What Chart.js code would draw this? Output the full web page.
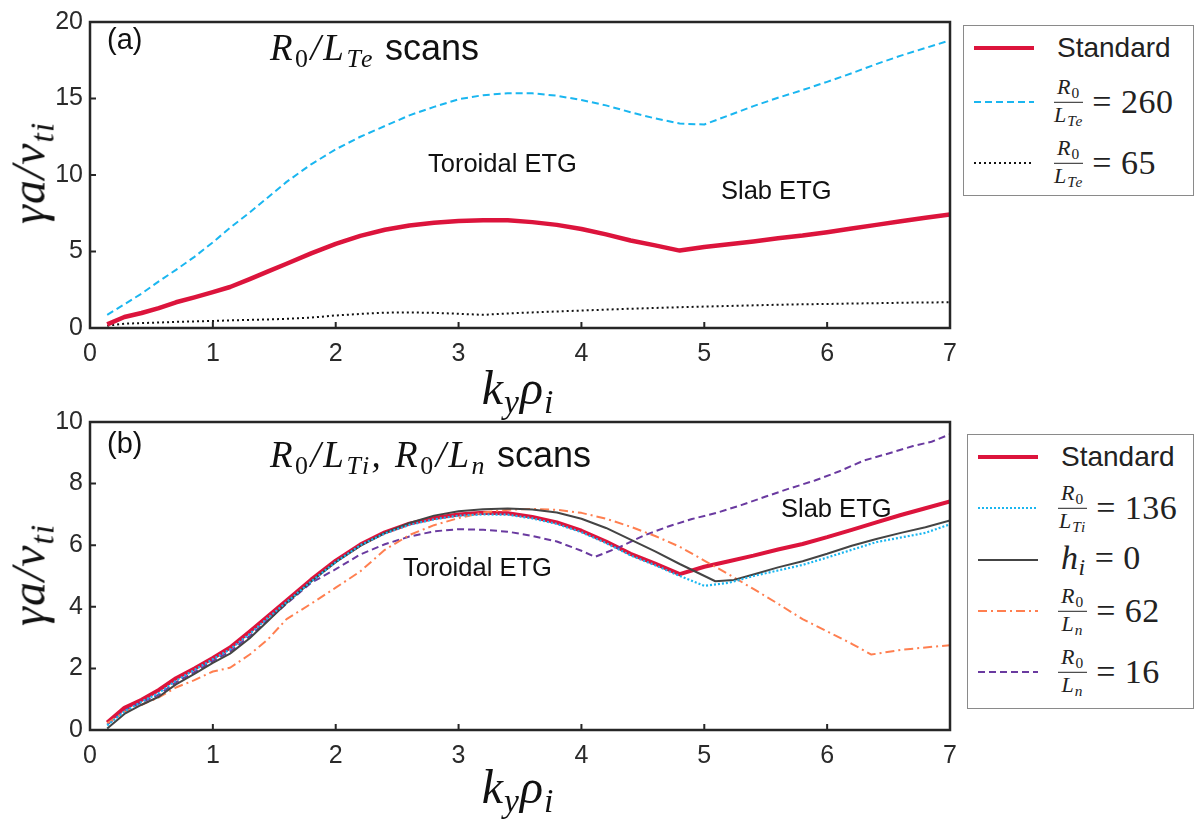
<!DOCTYPE html>
<html>
<head>
<meta charset="utf-8">
<script src="https://cdn.jsdelivr.net/npm/chart.js@4.4.1/dist/chart.umd.min.js"></script>
<style>
  html,body{margin:0;padding:0;background:#fff;}
  #wrap{position:relative;width:1196px;height:819px;background:#fff;overflow:hidden;}
  canvas{position:absolute;left:0;}
  .t{position:absolute;white-space:nowrap;line-height:1;color:#111;}
  .sans{font-family:"Liberation Sans",Arial,sans-serif;}
  .m{font-family:"Liberation Serif","Times New Roman",serif;font-style:italic;letter-spacing:2.5px;}
  .up{font-style:normal;}
  .sub{font-size:0.7em;vertical-align:-0.28em;}
  .yt{position:absolute;white-space:nowrap;line-height:1;font-family:"Liberation Serif",serif;font-style:italic;font-size:48px;letter-spacing:1px;color:#111;transform:translate(-50%,-50%) rotate(-90deg);}
  .xt{position:absolute;white-space:nowrap;line-height:1;font-family:"Liberation Serif",serif;font-style:italic;font-size:48px;letter-spacing:1px;color:#111;transform:translate(-50%,-50%);}
  .box{position:absolute;border:1.5px solid #8a8a8a;background:#fff;box-sizing:border-box;}
  .ls{position:absolute;}
  .lt{position:absolute;white-space:nowrap;display:flex;align-items:center;transform:translateY(-50%);color:#222;}
  .lt .std{font-family:"Liberation Sans",Arial,sans-serif;font-size:28px;}
  .frac{display:inline-flex;flex-direction:column;align-items:center;font-family:"Liberation Serif",serif;font-size:22px;line-height:1.0;letter-spacing:1px;margin-right:9px;}
  .frac .num{border-bottom:1.6px solid #222;padding:0 3px 1px 3px;}
  .frac .den{padding-top:1px;}
  .eq{font-family:"Liberation Serif",serif;font-size:34px;letter-spacing:0.5px;}
</style>
</head>
<body>
<div id="wrap">
  <canvas id="ca" width="1196" height="400" style="top:0px"></canvas>
  <canvas id="cb" width="1196" height="419" style="top:400px"></canvas>

  <!-- panel (a) texts -->
  <div class="t sans" style="left:107px;top:25px;font-size:29px;">(a)</div>
  <div class="t" style="left:270px;top:29px;font-size:37px;"><span class="m">R<span class="sub up">0</span>/L<span class="sub">Te</span></span><span class="sans" style="font-size:36px;"> scans</span></div>
  <div class="t sans" style="left:428px;top:151px;font-size:25.5px;">Toroidal ETG</div>
  <div class="t sans" style="left:721px;top:178px;font-size:25.5px;">Slab ETG</div>
  <div class="yt" style="left:32px;top:173px;">γa/v<span class="sub">ti</span></div>
  <div class="xt" style="left:518px;top:391px;">k<span class="sub">y</span>ρ<span class="sub">i</span></div>

  <!-- panel (b) texts -->
  <div class="t sans" style="left:107px;top:429px;font-size:29px;">(b)</div>
  <div class="t" style="left:270px;top:436px;font-size:37px;"><span class="m">R<span class="sub up">0</span>/L<span class="sub">Ti</span>, R<span class="sub up">0</span>/L<span class="sub">n</span></span><span class="sans" style="font-size:36px;"> scans</span></div>
  <div class="t sans" style="left:403px;top:555px;font-size:25.5px;">Toroidal ETG</div>
  <div class="t sans" style="left:781px;top:496px;font-size:25.5px;">Slab ETG</div>
  <div class="yt" style="left:32px;top:575px;">γa/v<span class="sub">ti</span></div>
  <div class="xt" style="left:518px;top:790px;">k<span class="sub">y</span>ρ<span class="sub">i</span></div>

  <!-- legend (a) -->
  <div class="box" style="left:963px;top:25px;width:231px;height:171px;"></div>
  <svg class="ls" style="left:974px;top:42px" width="60" height="12"><line x1="0" y1="6" x2="60" y2="6" stroke="#dc143c" stroke-width="4"/></svg>
  <div class="lt" style="left:1057px;top:48px;"><span class="std">Standard</span></div>
  <svg class="ls" style="left:974px;top:96px" width="60" height="12"><line x1="0" y1="6" x2="60" y2="6" stroke="#1ab6f0" stroke-width="2" stroke-dasharray="7 4"/></svg>
  <div class="lt" style="left:1054px;top:102px;"><span class="frac"><span class="num"><i>R</i><span class="sub">0</span></span><span class="den"><i>L</i><span class="sub"><i>Te</i></span></span></span><span class="eq">= 260</span></div>
  <svg class="ls" style="left:974px;top:157px" width="60" height="12"><line x1="0" y1="6" x2="60" y2="6" stroke="#111" stroke-width="2" stroke-dasharray="2 3"/></svg>
  <div class="lt" style="left:1054px;top:163px;"><span class="frac"><span class="num"><i>R</i><span class="sub">0</span></span><span class="den"><i>L</i><span class="sub"><i>Te</i></span></span></span><span class="eq">= 65</span></div>

  <!-- legend (b) -->
  <div class="box" style="left:967px;top:434px;width:227px;height:275px;"></div>
  <svg class="ls" style="left:978px;top:451px" width="60" height="12"><line x1="0" y1="6" x2="60" y2="6" stroke="#dc143c" stroke-width="4"/></svg>
  <div class="lt" style="left:1061px;top:457px;"><span class="std">Standard</span></div>
  <svg class="ls" style="left:978px;top:502px" width="60" height="12"><line x1="0" y1="6" x2="60" y2="6" stroke="#1ab6f0" stroke-width="2.2" stroke-dasharray="2 2"/></svg>
  <div class="lt" style="left:1058px;top:508px;"><span class="frac"><span class="num"><i>R</i><span class="sub">0</span></span><span class="den"><i>L</i><span class="sub"><i>Ti</i></span></span></span><span class="eq">= 136</span></div>
  <svg class="ls" style="left:978px;top:554px" width="60" height="12"><line x1="0" y1="6" x2="60" y2="6" stroke="#444" stroke-width="2"/></svg>
  <div class="lt" style="left:1061px;top:560px;"><span class="eq"><i>h</i><span class="sub"><i>i</i></span> = 0</span></div>
  <svg class="ls" style="left:978px;top:605px" width="60" height="12"><line x1="0" y1="6" x2="60" y2="6" stroke="#ff7f50" stroke-width="2" stroke-dasharray="9 4 2 4"/></svg>
  <div class="lt" style="left:1058px;top:611px;"><span class="frac"><span class="num"><i>R</i><span class="sub">0</span></span><span class="den"><i>L</i><span class="sub"><i>n</i></span></span></span><span class="eq">= 62</span></div>
  <svg class="ls" style="left:978px;top:666px" width="60" height="12"><line x1="0" y1="6" x2="60" y2="6" stroke="#6a3aa0" stroke-width="2" stroke-dasharray="7 4"/></svg>
  <div class="lt" style="left:1058px;top:672px;"><span class="frac"><span class="num"><i>R</i><span class="sub">0</span></span><span class="den"><i>L</i><span class="sub"><i>n</i></span></span></span><span class="eq">= 16</span></div>
</div>

<script>
// ---------- data ----------
const ky = [0.14,0.28,0.42,0.56,0.70,0.85,1.00,1.14,1.30,1.45,1.60,1.80,2.00,2.20,2.40,2.60,2.80,3.00,3.20,3.40,3.60,3.80,4.00,4.20,4.40,4.60,4.80,5.00,5.20,5.40,5.60,5.80,6.00,6.20,6.40,6.60,6.80,7.00];
const standard = [0.24,0.72,0.98,1.30,1.68,2.00,2.34,2.68,3.20,3.70,4.20,4.88,5.50,6.02,6.42,6.70,6.88,7.00,7.05,7.04,6.92,6.74,6.47,6.12,5.72,5.40,5.06,5.30,5.48,5.66,5.86,6.04,6.26,6.50,6.74,6.98,7.20,7.42];
const lTe260 = [0.86,1.55,2.25,3.05,3.80,4.65,5.60,6.55,7.55,8.55,9.55,10.70,11.68,12.50,13.20,13.90,14.45,14.95,15.22,15.34,15.34,15.18,14.90,14.55,14.10,13.70,13.36,13.30,13.90,14.50,15.05,15.55,16.09,16.65,17.25,17.80,18.30,18.80];
const lTe65 = [0.15,0.28,0.32,0.36,0.40,0.43,0.46,0.50,0.53,0.56,0.60,0.68,0.82,0.92,1.00,1.02,0.99,0.93,0.86,0.95,1.02,1.08,1.14,1.20,1.26,1.31,1.36,1.40,1.44,1.48,1.52,1.55,1.57,1.60,1.62,1.65,1.67,1.68];
const lTi136 = [0.15,0.60,0.92,1.20,1.60,1.95,2.30,2.62,3.12,3.65,4.15,4.82,5.45,6.00,6.38,6.66,6.84,6.96,7.00,6.99,6.87,6.69,6.42,6.07,5.67,5.35,5.00,4.68,4.78,5.00,5.18,5.36,5.60,5.85,6.10,6.25,6.40,6.68];
const kyHi = [0.14,0.28,0.42,0.56,0.70,0.85,1.00,1.14,1.30,1.45,1.60,1.80,2.00,2.20,2.40,2.60,2.80,3.00,3.20,3.40,3.60,3.80,4.00,4.20,4.40,4.60,4.80,5.09,5.24,5.40,5.60,5.80,6.00,6.20,6.40,6.60,6.80,7.00];
const hi0 = [0.05,0.52,0.82,1.08,1.48,1.82,2.18,2.48,2.98,3.55,4.12,4.82,5.45,5.98,6.40,6.72,6.96,7.10,7.17,7.19,7.16,7.06,6.86,6.56,6.18,5.80,5.39,4.83,4.87,5.05,5.28,5.48,5.72,5.98,6.20,6.40,6.58,6.80];
const kyLn62 = [0.14,0.28,0.42,0.56,0.70,0.85,1.00,1.14,1.30,1.45,1.60,1.80,2.00,2.20,2.40,2.60,2.80,3.00,3.20,3.40,3.60,3.80,4.00,4.20,4.40,4.60,4.80,5.00,5.20,5.40,5.60,5.80,6.00,6.20,6.36,6.60,6.80,7.00];
const ln62 = [0.22,0.58,0.82,1.06,1.38,1.62,1.90,2.02,2.45,2.95,3.60,4.10,4.62,5.15,5.85,6.33,6.65,6.88,7.06,7.15,7.18,7.15,7.05,6.86,6.60,6.30,5.95,5.50,5.05,4.58,4.10,3.60,3.20,2.80,2.45,2.60,2.68,2.75];
const kyLn16 = [0.14,0.28,0.42,0.56,0.70,0.85,1.00,1.14,1.30,1.45,1.60,1.80,2.00,2.20,2.40,2.60,2.80,3.00,3.20,3.40,3.60,3.80,4.00,4.11,4.30,4.50,4.70,4.90,5.10,5.30,5.50,5.70,5.90,6.10,6.30,6.50,6.70,6.85,7.00];
const ln16 = [0.18,0.62,0.90,1.15,1.55,1.88,2.24,2.55,3.05,3.58,4.10,4.78,5.22,5.70,6.03,6.28,6.45,6.52,6.50,6.44,6.30,6.12,5.82,5.62,5.92,6.30,6.60,6.85,7.05,7.30,7.58,7.85,8.10,8.40,8.75,8.98,9.22,9.36,9.60];
const xTicksMax = 7;
const yMaxA = 20, yStepA = 5;
const yMaxB = 10, yStepB = 2;

// ---------- helpers ----------
const pts = (xs, ys) => xs.map((x, i) => ({x, y: ys[i]}));
const tickFont = {family: '"Liberation Sans", Arial, sans-serif', size: 25};

const framePlugin = {
  id: 'frame',
  afterDraw(chart) {
    const {ctx, chartArea: a, scales: {x, y}} = chart;
    ctx.save();
    ctx.strokeStyle = '#262626';
    ctx.lineWidth = 2.5;
    ctx.strokeRect(a.left, a.top, a.right - a.left, a.bottom - a.top);
    ctx.lineWidth = 2;
    ctx.beginPath();
    x.ticks.forEach(t => { const p = x.getPixelForValue(t.value); ctx.moveTo(p, a.bottom); ctx.lineTo(p, a.bottom - 6); });
    y.ticks.forEach(t => { const p = y.getPixelForValue(t.value); ctx.moveTo(a.left, p); ctx.lineTo(a.left + 6, p); });
    ctx.stroke();
    ctx.restore();
  }
};

function makeChart(id, datasets, yMax, yStep, padTop, xHeight) {
  return new Chart(document.getElementById(id), {
    type: 'line',
    data: {datasets},
    options: {
      responsive: false,
      animation: false,
      devicePixelRatio: 1,
      layout: {padding: {left: 0, right: 246, top: padTop, bottom: 0}},
      plugins: {legend: {display: false}, tooltip: {enabled: false}},
      elements: {point: {radius: 0}, line: {tension: 0, borderCapStyle: 'butt', borderJoinStyle: 'round'}},
      scales: {
        x: {
          type: 'linear', min: 0, max: xTicksMax,
          grid: {display: false, drawTicks: false}, border: {display: false},
          ticks: {stepSize: 1, color: '#2a2a2a', font: tickFont, padding: 11, maxRotation: 0},
          afterFit(s) { s.height = xHeight; }
        },
        y: {
          type: 'linear', min: 0, max: yMax,
          grid: {display: false, drawTicks: false}, border: {display: false},
          ticks: {stepSize: yStep, color: '#2a2a2a', font: tickFont, padding: 7},
          afterFit(s) { s.width = 90; }
        }
      }
    },
    plugins: [framePlugin]
  });
}

makeChart('ca', [
  {label: 'Standard', data: pts(ky, standard), borderColor: '#dc143c', borderWidth: 4.5, order: 1},
  {label: 'R0/LTe = 260', data: pts(ky, lTe260), borderColor: '#1ab6f0', borderWidth: 2, borderDash: [7, 4], order: 2},
  {label: 'R0/LTe = 65', data: pts(ky, lTe65), borderColor: '#111', borderWidth: 2, borderDash: [2, 3], order: 3}
], yMaxA, yStepA, 18, 72);

makeChart('cb', [
  {label: 'Standard', data: pts(ky, standard), borderColor: '#dc143c', borderWidth: 4, order: 6},
  {label: 'R0/LTi = 136', data: pts(ky, lTi136), borderColor: '#1ab6f0', borderWidth: 2.2, borderDash: [2, 2], order: 1},
  {label: 'h_i = 0', data: pts(kyHi, hi0), borderColor: '#444', borderWidth: 2, order: 2},
  {label: 'R0/Ln = 62', data: pts(kyLn62, ln62), borderColor: '#ff7f50', borderWidth: 2, borderDash: [9, 4, 2, 4], order: 3},
  {label: 'R0/Ln = 16', data: pts(kyLn16, ln16), borderColor: '#6a3aa0', borderWidth: 2, borderDash: [7, 4], order: 4}
], yMaxB, yStepB, 21, 89);
</script>
</body>
</html>
